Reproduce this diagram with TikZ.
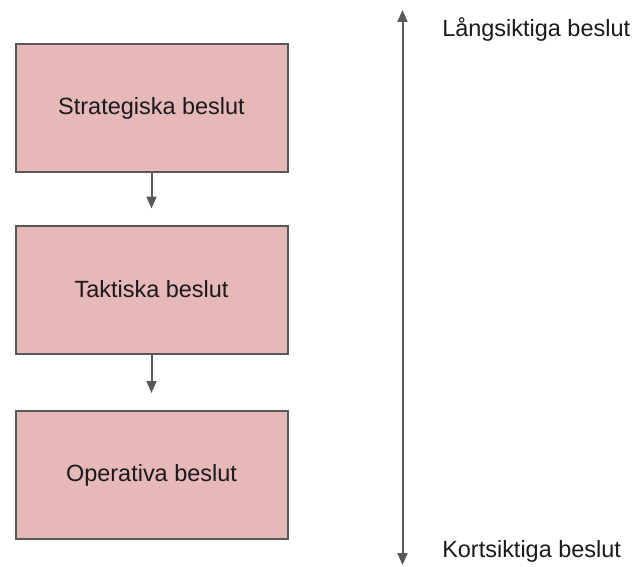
\documentclass[tikz,border=0pt]{standalone}
\usepackage{fontspec}
\setmainfont{Liberation Sans}
\usetikzlibrary{arrows.meta}
\definecolor{boxfill}{HTML}{E6B8B8}
\definecolor{edge}{HTML}{595959}
\definecolor{txt}{HTML}{1A1A1A}
\begin{document}
\begin{tikzpicture}[x=0.75pt,y=-0.75pt,
  decision/.style={draw=edge, line width=1.5pt, fill=boxfill,
    minimum width=272*0.75pt, minimum height=128*0.75pt,
    inner sep=0pt, text=txt, font=\fontsize{17.6pt}{20pt}\selectfont},
  label/.style={anchor=west, inner sep=0pt, text=txt, font=\fontsize{17.6pt}{20pt}\selectfont},
  tip/.style={-{Triangle[width=7.5pt,length=9pt]}},
  conn/.style={draw=edge, line width=1.5pt, tip}]
\useasboundingbox (0,0) rectangle (636,567);
\node[decision] (s) at (151.5,108) {Strategiska beslut};
\node[decision] (t) at (151.5,289.5) {Taktiska beslut};
\node[decision] (o) at (151.5,475) {Operativa beslut};
\draw[conn, shorten >=16*0.75pt] (s) -- (t);
\draw[conn, shorten >=17*0.75pt] (t) -- (o);
\coordinate (top) at (402.5,10);
\coordinate (bot) at (402.5,565);
\draw[draw=edge, line width=1.5pt, {Triangle[width=7.5pt,length=9pt]}-{Triangle[width=7.5pt,length=9pt]}] (bot) -- (top);
\node[label] (lang) at (442,29) {Långsiktiga beslut};
\node[label] (kort) at (442,551) {Kortsiktiga beslut};
\end{tikzpicture}
\end{document}
